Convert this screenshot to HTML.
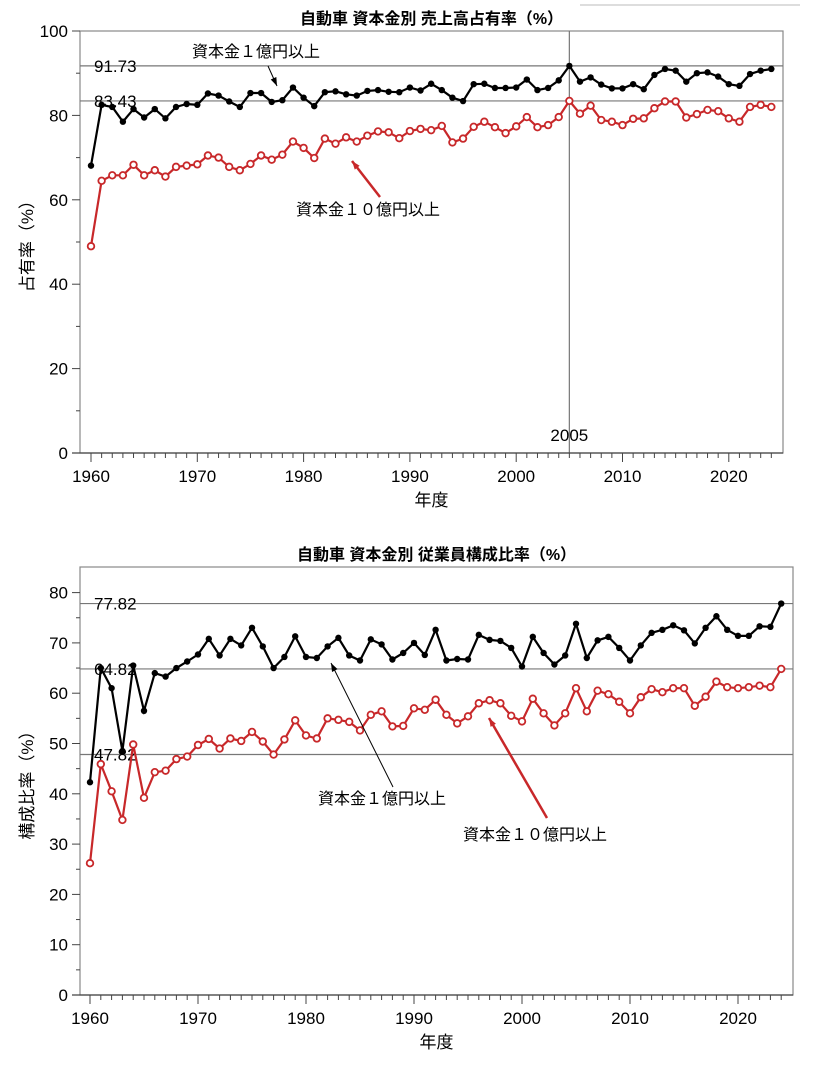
<!DOCTYPE html>
<html><head><meta charset="utf-8"><style>
html,body{margin:0;padding:0;background:#fff;}
svg text{font-family:"Liberation Sans","Noto Sans CJK JP",sans-serif;}
</style></head><body>
<svg id="s" width="816" height="1068" xmlns="http://www.w3.org/2000/svg"></svg>
<script>
const S=document.getElementById('s');let h='';
h+='<line x1="580" y1="5" x2="800" y2="5" stroke="#bbb" stroke-width="1"/>';
function chart(o){
 const X=y=>o.x0+(y-1960)*o.xs, Y=v=>o.yb-(v-0)*o.ys;
 h+=`<text x="${(o.L+o.R)/2}" y="${o.T-7}" font-size="16" font-weight="bold" text-anchor="middle">${o.title}</text>`;
 h+=`<rect x="${o.L}" y="${o.T}" width="${o.R-o.L}" height="${o.yb-o.T}" fill="none" stroke="#888" stroke-width="1.2"/>`;
 o.refs.forEach(r=>{h+=`<line x1="${o.L}" x2="${o.R}" y1="${Y(r)}" y2="${Y(r)}" stroke="#777" stroke-width="1.2"/>`;
  h+=`<text x="${o.L+14}" y="${Y(r)+6}" font-size="17" fill="#000">${r.toFixed(2)}</text>`;});
 if(o.vline){h+=`<line x1="${X(o.vline)}" x2="${X(o.vline)}" y1="${o.T}" y2="${o.yb}" stroke="#777" stroke-width="1.2"/>`;
  h+=`<text x="${X(o.vline)}" y="${o.yb-12}" font-size="17" text-anchor="middle">${o.vline}</text>`;}
 for(let v=0;v<=o.ymax;v+=o.minor){const y=Y(v);const maj=v%o.major==0;
  h+=`<line x1="${o.L-(maj?8:4)}" x2="${o.L}" y1="${y}" y2="${y}" stroke="#444"/>`;
  if(maj)h+=`<text x="${o.L-12}" y="${y+6}" font-size="17" text-anchor="end">${v}</text>`;}
 h+=`<line x1="${o.L-8}" x2="${o.R}" y1="${o.yb}" y2="${o.yb}" stroke="#444" stroke-width="1.2"/>`;
 for(let yr=1960;yr<=2024;yr++){const x=X(yr);const maj=yr%10==0;
  h+=`<line x1="${x}" x2="${x}" y1="${o.yb}" y2="${o.yb+(maj?9:5)}" stroke="#444"/>`;
  if(maj)h+=`<text x="${x}" y="${o.yb+29}" font-size="17" text-anchor="middle">${yr}</text>`;}
 h+=`<text x="${(o.L+o.R)/2}" y="${o.yb+53}" font-size="17" text-anchor="middle">年度</text>`;
 h+=`<text transform="translate(${o.L-47},${(o.T+o.yb)/2}) rotate(-90)" font-size="17" text-anchor="middle">${o.ylab}</text>`;
 const ser=(d,c,open)=>{let p=d.map((v,i)=>X(1960+i).toFixed(1)+','+Y(v).toFixed(1)).join(' ');
  h+=`<polyline points="${p}" fill="none" stroke="${c}" stroke-width="2.2"/>`;
  d.forEach((v,i)=>{h+=open?`<circle cx="${X(1960+i)}" cy="${Y(v)}" r="3.3" fill="#fff" stroke="${c}" stroke-width="1.8"/>`:`<circle cx="${X(1960+i)}" cy="${Y(v)}" r="3.2" fill="${c}"/>`;});};
 ser(o.red,'#c8282a',true);ser(o.blk,'#000',false);
 o.ann.forEach(a=>{h+=`<text x="${a.tx}" y="${a.ty}" font-size="16">${a.t}</text>`;
  h+=`<line x1="${a.x1}" y1="${a.y1}" x2="${a.x2}" y2="${a.y2}" stroke="${a.c}" stroke-width="${a.w}"/>`;
  const ang=Math.atan2(a.y2-a.y1,a.x2-a.x1),L=9;
  const p1=[a.x2-L*Math.cos(ang-0.35),a.y2-L*Math.sin(ang-0.35)],p2=[a.x2-L*Math.cos(ang+0.35),a.y2-L*Math.sin(ang+0.35)];
  h+=`<polygon points="${a.x2},${a.y2} ${p1} ${p2}" fill="${a.c}"/>`;});
}
chart({title:'自動車 資本金別 売上高占有率（%）',L:80,R:783,T:31,yb:453,x0:91,xs:10.63,ys:4.22,ymax:100,major:20,minor:10,
 refs:[91.73,83.43],vline:2005,ylab:'占有率（%）',
 blk:[68.1,82.5,82,78.5,81.5,79.5,81.5,79.3,82,82.7,82.5,85.2,84.7,83.3,82,85.3,85.3,83.2,83.6,86.6,84.2,82.2,85.5,85.7,85,84.7,85.8,86,85.6,85.5,86.6,85.9,87.5,86,84.2,83.4,87.4,87.5,86.5,86.5,86.6,88.5,86,86.5,88.3,91.73,88,89,87.3,86.4,86.4,87.4,86.2,89.6,91,90.6,88,90,90.2,89.2,87.4,87,89.8,90.6,91],
 red:[49,64.5,65.8,65.8,68.3,65.8,67,65.5,67.8,68.1,68.4,70.5,70,67.8,67,68.5,70.5,69.5,70.7,73.8,72.3,69.9,74.5,73.3,74.8,73.8,75.2,76.2,76,74.6,76.3,76.8,76.5,77.5,73.6,74.5,77.3,78.5,77.2,75.8,77.4,79.6,77.2,77.7,79.6,83.43,80.4,82.3,78.9,78.5,77.7,79.2,79.3,81.7,83.3,83.3,79.5,80.3,81.3,81,79.3,78.5,82,82.5,82],
 ann:[{t:'資本金１億円以上',tx:192,ty:57,x1:268,y1:66,x2:277,y2:86,c:'#000',w:1},
      {t:'資本金１０億円以上',tx:296,ty:215,x1:380,y1:197,x2:352,y2:161,c:'#c8282a',w:2.5}]});
chart({title:'自動車 資本金別 従業員構成比率（%）',L:80,R:793,T:567,yb:995,x0:90,xs:10.8,ys:5.03,ymax:80,major:10,minor:5,
 refs:[77.82,64.82,47.82],ylab:'構成比率（%）',
 blk:[42.3,65,61,48.5,65.5,56.5,64,63.3,65,66.3,67.7,70.8,67.5,70.8,69.5,73,69.3,65,67.2,71.3,67.2,67,69.3,71,67.5,66.5,70.7,69.7,66.7,68,70,67.6,72.6,66.5,66.8,66.7,71.6,70.6,70.4,69,65.3,71.2,68,65.7,67.5,73.8,67,70.5,71.2,69,66.5,69.5,72,72.6,73.5,72.5,69.9,73,75.3,72.6,71.4,71.4,73.3,73.2,77.82],
 red:[26.2,45.9,40.5,34.8,49.8,39.2,44.3,44.6,46.9,47.4,49.7,50.9,49,51,50.5,52.3,50.4,47.8,50.8,54.6,51.6,51,55,54.7,54.3,52.6,55.7,56.4,53.4,53.5,57,56.7,58.7,55.7,54,55.4,58,58.6,58,55.5,54.4,58.9,56,53.6,56,61,56.4,60.5,59.8,58.3,56,59.2,60.8,60.2,61,61,57.5,59.3,62.3,61.2,61,61.2,61.5,61.2,64.82],
 ann:[{t:'資本金１億円以上',tx:318,ty:804,x1:393,y1:787,x2:331,y2:663,c:'#000',w:1},
      {t:'資本金１０億円以上',tx:463,ty:840,x1:547,y1:818,x2:489,y2:718,c:'#c8282a',w:2.5}]});
S.innerHTML=h;
</script>
</body></html>
